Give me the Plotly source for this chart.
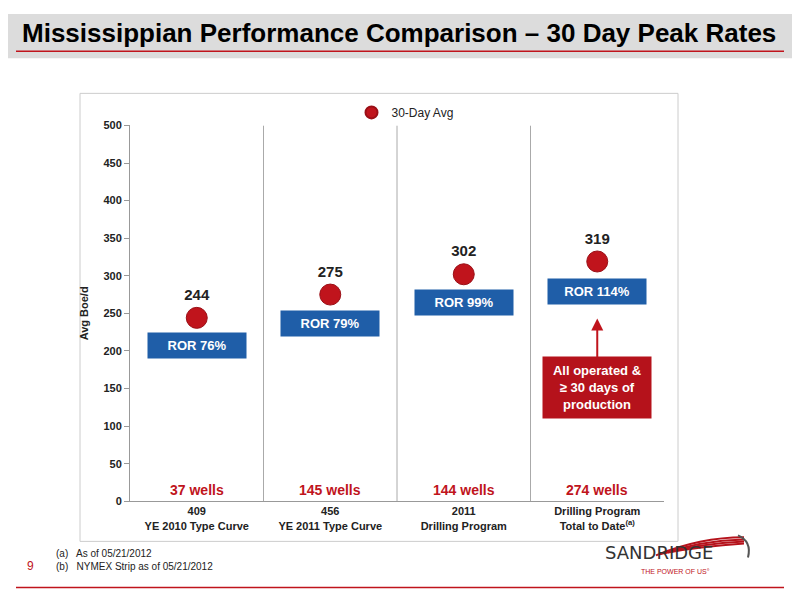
import plotly.graph_objects as go

cats = ["409<br>YE 2010 Type Curve", "456<br>YE 2011 Type Curve", "2011<br>Drilling Program", "Drilling Program<br>Total to Date<sup>(a)</sup>"]
avg = [244, 275, 302, 319]
ror = ["ROR 76%", "ROR 79%", "ROR 99%", "ROR 114%"]
ror_y = [207, 236, 265, 279]
ror_x = [0.0, 1.0, 2.0, 3.0]
wells = ["37 wells", "145 wells", "144 wells", "274 wells"]
yticks = [0, 50, 100, 150, 200, 250, 300, 350, 400, 450, 500]

W, H, OFF = 792, 592, 8
def px(X): return (X - OFF) / W
def py(Y): return 1 - ((Y - 6) / 0.9775 - OFF) / H

xs = list(range(len(avg)))
fig = go.Figure()
fig.add_trace(go.Scatter(x=xs, y=avg, mode="markers+text", name="30-Day Avg",
    marker=dict(size=21, color="#c0141c", line=dict(color="#9a0f16", width=1)),
    text=[str(v) for v in avg], textposition="top center",
    textfont=dict(size=15, color="#222", family="Arial", weight="bold"),
    cliponaxis=False))

for i in xs:
    fig.add_annotation(x=ror_x[i], y=ror_y[i], text="<b>"+ror[i]+"</b>", showarrow=False,
        bgcolor="#1f5ea8", font=dict(color="white", size=13, family="Arial"),
        borderpad=5, width=88, xref="x", yref="y")
    fig.add_annotation(x=i, y=15, text="<b>"+wells[i]+"</b>", showarrow=False,
        font=dict(color="#c0141c", size=14, family="Arial"), xref="x", yref="y")

fig.add_annotation(x=3, y=152, text="<b>All operated &<br>≥ 30 days of<br>production</b>",
    showarrow=False, bgcolor="#b5121b", font=dict(color="white", size=13, family="Arial"),
    borderpad=6, width=96, xref="x", yref="y")
fig.add_annotation(x=3, y=243, ax=3, ay=190, axref="x", ayref="y", xref="x", yref="y",
    text="", showarrow=True, arrowhead=2, arrowsize=1.2, arrowwidth=2, arrowcolor="#c0141c")

for b in [0.5, 1.5, 2.5]:
    fig.add_shape(type="line", x0=b, x1=b, y0=0, y1=500, xref="x", yref="y",
                  line=dict(color="#aaaaaa", width=1))

fig.add_shape(type="rect", xref="paper", yref="paper", x0=0, x1=1, y0=py(58), y1=1,
              fillcolor="#dcdcdc", line_width=0, layer="below")
fig.add_shape(type="line", xref="paper", yref="paper", x0=px(16), x1=px(784), y0=py(51), y1=py(51),
              line=dict(color="#c0141c", width=1.5))
fig.add_shape(type="line", xref="paper", yref="paper", x0=px(16), x1=px(784), y0=py(586), y1=py(586),
              line=dict(color="#c0141c", width=1.5))
fig.add_shape(type="rect", xref="paper", yref="paper", x0=px(80), x1=px(678), y0=py(540), y1=py(93),
              line=dict(color="#cccccc", width=1), fillcolor="white", layer="below")

fig.add_annotation(xref="paper", yref="paper", x=px(20), y=py(33), xanchor="left", yanchor="middle",
    text="<b>Mississippian Performance Comparison – 30 Day Peak Rates</b>", showarrow=False,
    font=dict(size=26, color="black", family="Arial"))
fig.add_annotation(xref="paper", yref="paper", x=px(25), y=py(574), text="9", showarrow=False,
    font=dict(size=12, color="#c0141c", family="Arial"))
fig.add_annotation(xref="paper", yref="paper", x=px(54), y=py(573), xanchor="left", align="left",
    text="(a)   As of 05/21/2012<br>(b)   NYMEX Strip as of 05/21/2012", showarrow=False,
    font=dict(size=10, color="#222", family="Arial"))
fig.add_annotation(xref="paper", yref="paper", x=px(715), y=py(564), text="SANDRIDGE", showarrow=False,
    font=dict(size=18, color="#333", family="DejaVu Sans"))
fig.add_annotation(xref="paper", yref="paper", x=px(712), y=py(576), text="THE POWER OF US°", showarrow=False,
    font=dict(size=7, color="#c0141c", family="Arial"))
for k in range(4):
    fig.add_shape(type="path", xref="paper", yref="paper",
        path="M %f %f Q %f %f %f %f" % (px(656+k*4), py(554-k*1), px(700), py(536+k*3), px(744), py(536+k*2)),
        line=dict(color="#b5121b", width=2))
fig.add_shape(type="path", xref="paper", yref="paper",
    path="M %f %f Q %f %f %f %f" % (px(738), py(534), px(752), py(540), px(748), py(556)),
    line=dict(color="#555", width=2))

fig.update_layout(width=W, height=H, margin=dict(l=0, r=0, t=0, b=0),
    paper_bgcolor="white", plot_bgcolor="white", showlegend=True,
    legend=dict(orientation="h", x=px(405), y=py(112), xanchor="center", yanchor="middle",
                font=dict(size=12, family="Arial", color="#222"),
                bgcolor="rgba(0,0,0,0)", itemsizing="constant"),
    font=dict(family="Arial"))
fig.update_xaxes(domain=[px(130), px(664)], range=[-0.5, 3.5], tickvals=xs, ticktext=["<b>"+c+"</b>" for c in cats],
    showgrid=False, zeroline=False, showline=True, linecolor="#999", ticks="", tickfont=dict(size=11, color="#222"))
fig.update_yaxes(domain=[py(500), py(125)], range=[0, 500], tickvals=yticks,
    ticktext=["<b>%d</b>" % v for v in yticks], showgrid=False, zeroline=False, showline=True, linecolor="#999",
    ticks="outside", ticklen=5, tickcolor="#999", tickfont=dict(size=11, color="#222"),
    title=dict(text="<b>Avg Boe/d</b>", font=dict(size=11, color="#222"), standoff=12))
fig.write_html("out.html")
